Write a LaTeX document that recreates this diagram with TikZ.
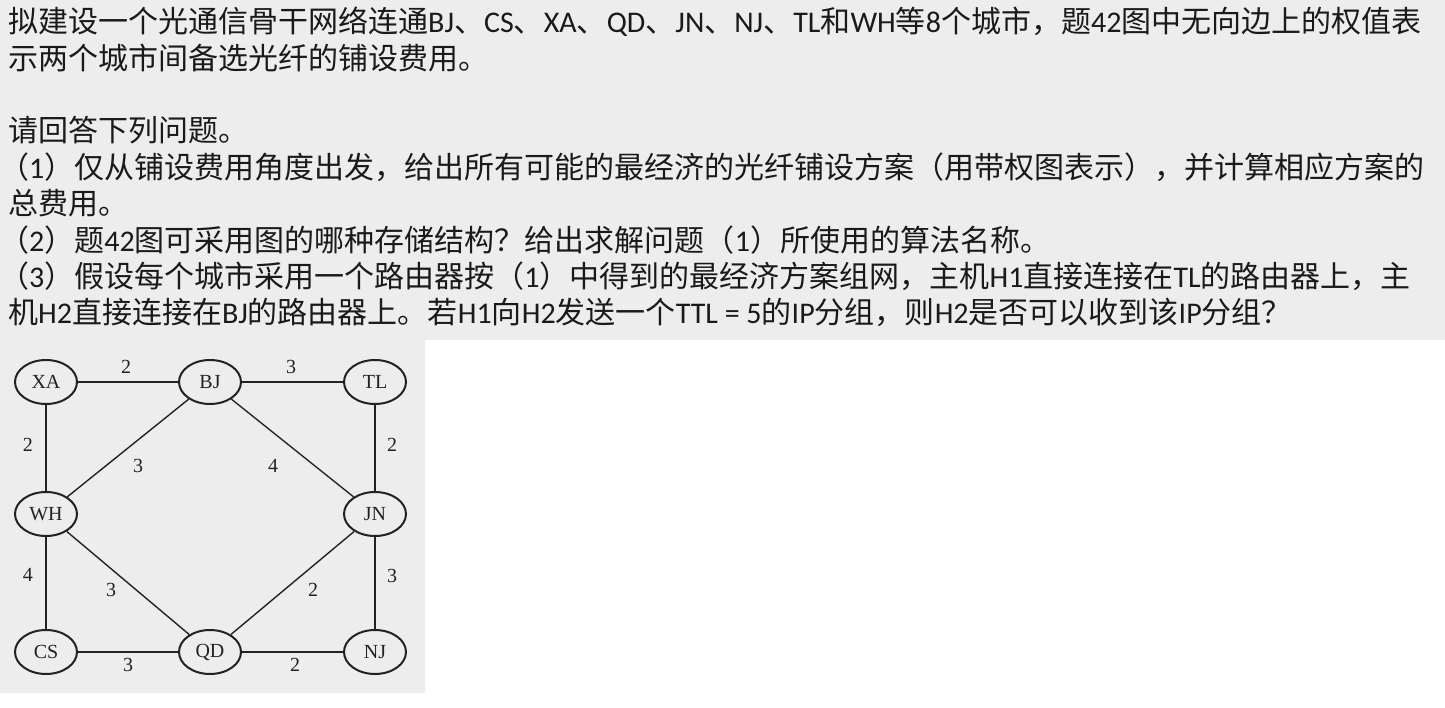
\documentclass[tikz,border=0pt]{standalone}
\usepackage{fontspec}
\setmainfont{Noto Sans CJK SC}
\newfontfamily\latf{Carlito}
\newfontfamily\gser{Liberation Serif}
\usetikzlibrary{shapes.geometric}
\newcommand\la[1]{{\latf #1}}
\definecolor{bggray}{HTML}{EDEDED}
\definecolor{ink}{HTML}{1A1A1A}
\definecolor{gline}{HTML}{222222}
\tikzset{
  txt/.style={anchor=base west, inner sep=0pt, text=ink, font=\fontsize{30}{36}\selectfont},
  city/.style={ellipse, draw=gline, line width=2pt, minimum width=62pt, minimum height=44pt, inner sep=0pt, text=gline, font=\gser\fontsize{20}{20}\selectfont},
  link/.style={draw=gline, line width=1.4pt},
  wt/.style={inner sep=0pt, text=gline, font=\gser\fontsize{20}{20}\selectfont}
}
\begin{document}
\begin{tikzpicture}[x=1pt,y=-1pt]
\useasboundingbox (0,0) rectangle (1445,708);
\fill[white] (0,0) rectangle (1445,708);
\fill[bggray] (0,0) -- (1445,0) -- (1445,340) -- (425,340) -- (425,693) -- (0,693) -- cycle;
% text
\node[txt] (l1) at (8,33) {拟建设一个光通信骨干网络连通\la{BJ}、\la{CS}、\la{XA}、\la{QD}、\la{JN}、\la{NJ}、\la{TL}和\la{WH}等\la{8}个城市，题\la{42}图中无向边上的权值表};
\node[txt] (l2) at (8,70) {示两个城市间备选光纤的铺设费用。};
\node[txt] (l3) at (8,142) {请回答下列问题。};
\node[txt] (l4) at (-1,179) {（\la{1}）仅从铺设费用角度出发，给出所有可能的最经济的光纤铺设方案（用带权图表示），并计算相应方案的};
\node[txt] (l5) at (8,215) {总费用。};
\node[txt] (l6) at (-1,252) {（\la{2}）题\la{42}图可采用图的哪种存储结构？给出求解问题（\la{1}）所使用的算法名称。};
\node[txt] (l7) at (-1,288) {（\la{3}）假设每个城市采用一个路由器按（\la{1}）中得到的最经济方案组网，主机\la{H1}直接连接在\la{TL}的路由器上，主};
\node[txt] (l8) at (8,324) {机\la{H2}直接连接在\la{BJ}的路由器上。若\la{H1}向\la{H2}发送一个\la{TTL = 5}的\la{IP}分组，则\la{H2}是否可以收到该\la{IP}分组？};
% graph
\node[city] (XA) at (46,382) {XA};
\node[city] (BJ) at (210,382) {BJ};
\node[city] (TL) at (375,382) {TL};
\node[city] (WH) at (46,514) {WH};
\node[city] (JN) at (375,514) {JN};
\node[city] (CS) at (46,652) {CS};
\node[city] (QD) at (210,652) {QD};
\node[city] (NJ) at (375,652) {NJ};
\draw[link] (XA) -- (BJ);
\draw[link] (BJ) -- (TL);
\draw[link] (XA) -- (WH);
\draw[link] (WH) -- (BJ);
\draw[link] (BJ) -- (JN);
\draw[link] (TL) -- (JN);
\draw[link] (WH) -- (CS);
\draw[link] (WH) -- (QD);
\draw[link] (JN) -- (QD);
\draw[link] (JN) -- (NJ);
\draw[link] (CS) -- (QD);
\draw[link] (QD) -- (NJ);
\node[wt] (w1) at (126,367) {2};
\node[wt] (w2) at (291,367) {3};
\node[wt] (w3) at (28,445) {2};
\node[wt] (w4) at (138,466) {3};
\node[wt] (w5) at (273,466) {4};
\node[wt] (w6) at (392,445) {2};
\node[wt] (w7) at (28,575) {4};
\node[wt] (w8) at (111,590) {3};
\node[wt] (w9) at (313,590) {2};
\node[wt] (w10) at (392,576) {3};
\node[wt] (w11) at (128,665) {3};
\node[wt] (w12) at (295,665) {2};
\end{tikzpicture}
\end{document}
